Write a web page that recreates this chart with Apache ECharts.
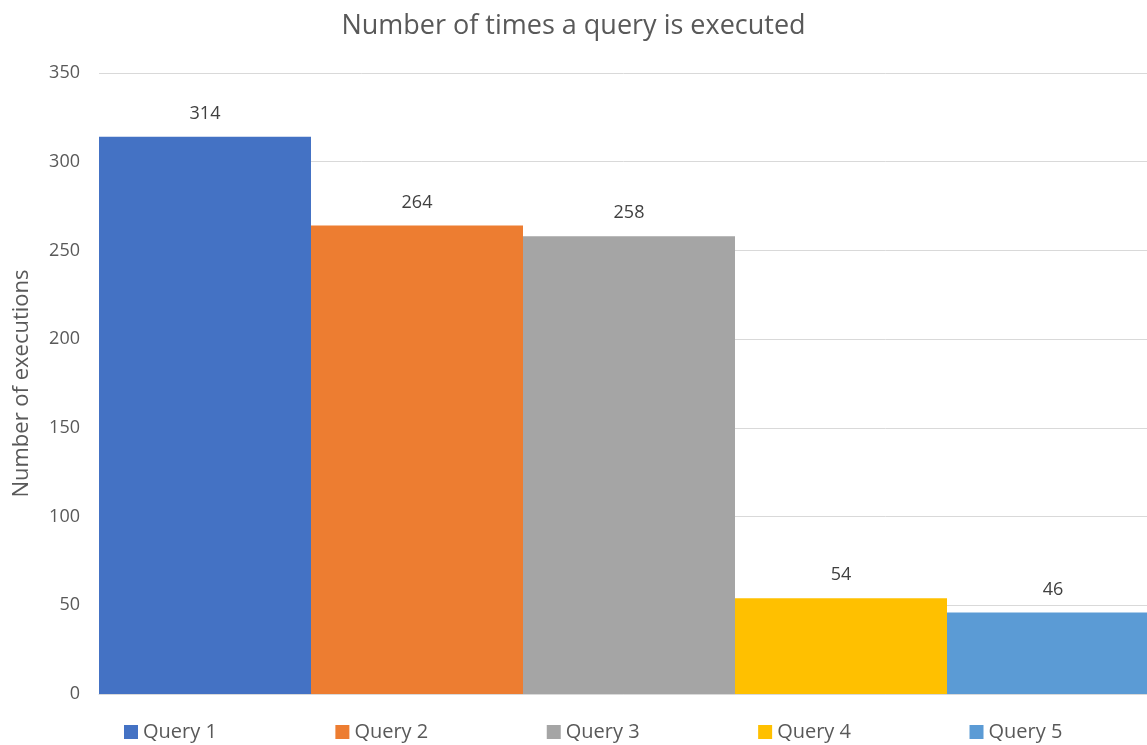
<!DOCTYPE html>
<html>
<head>
<meta charset="utf-8">
<script src="https://cdn.jsdelivr.net/npm/echarts@6/dist/echarts.min.js"></script>
<style>
  html, body { margin: 0; padding: 0; background: #fff; }
  #chart { width: 1147px; height: 745px; }
</style>
</head>
<body>
<div id="chart"></div>
<script>
// data
const queries = ['Query 1', 'Query 2', 'Query 3', 'Query 4', 'Query 5'];
const executions = [314, 264, 258, 54, 46];
const colors = ['#4472c4', '#ed7d31', '#a5a5a5', '#ffc000', '#5b9bd5'];

const chart = echarts.init(document.getElementById('chart'));
const font = '"Open Sans", "Noto Sans", sans-serif';

const series = queries.map((q, i) => ({
  name: q,
  type: 'bar',
  data: [executions[i]],
  barGap: 0,
  barCategoryGap: 0,
  itemStyle: { color: colors[i] },
  label: {
    show: true,
    position: 'top',
    distance: 14,
    color: '#404040',
    fontFamily: font,
    fontSize: 18
  }
}));

chart.setOption({
  animation: false,
  title: {
    text: 'Number of times a query is executed',
    left: 'center',
    top: 8,
    textStyle: { color: '#595959', fontFamily: font, fontSize: 27, fontWeight: 'normal' }
  },
  legend: {
    bottom: -2,
    left: 119,
    itemWidth: 14,
    itemHeight: 14,
    itemGap: 118.5,
    icon: 'rect',
    textStyle: { color: '#595959', fontFamily: font, fontSize: 20 }
  },
  grid: { left: 99, right: -12, top: 73, bottom: 51, outerBoundsMode: 'none' },
  xAxis: {
    type: 'category',
    data: [''],
    axisLine: { lineStyle: { color: '#d9d9d9' } },
    axisTick: { show: false },
    axisLabel: { show: false }
  },
  yAxis: {
    type: 'value',
    min: 0,
    max: 350,
    interval: 50,
    name: 'Number of executions',
    nameLocation: 'middle',
    nameGap: 66,
    nameTextStyle: { color: '#595959', fontFamily: font, fontSize: 22 },
    axisLine: { show: false },
    axisTick: { show: false },
    axisLabel: { color: '#595959', fontFamily: font, fontSize: 18, margin: 19 },
    splitLine: { lineStyle: { color: '#d9d9d9' } }
  },
  series: series
});
</script>
</body>
</html>
